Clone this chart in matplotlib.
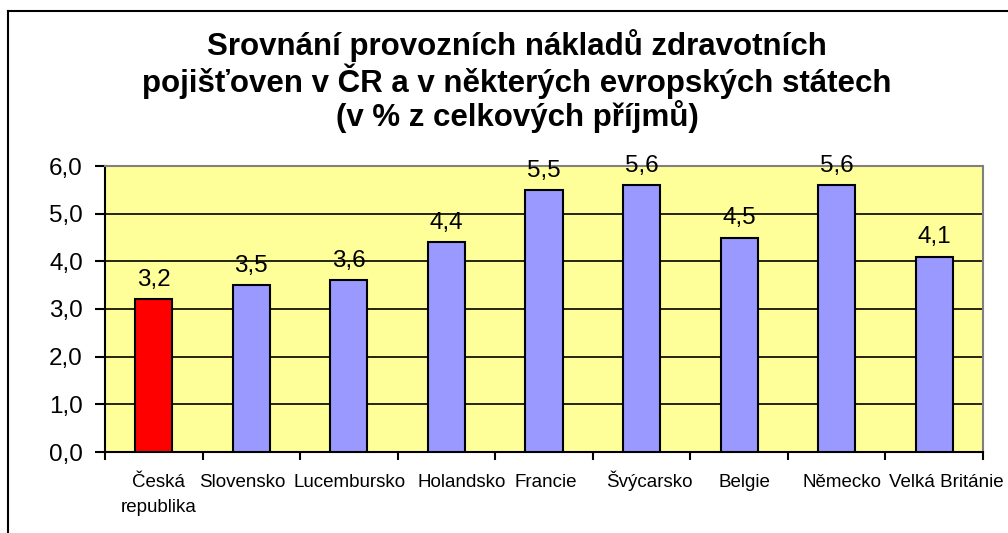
import matplotlib
matplotlib.use("Agg")
import matplotlib.pyplot as plt
from matplotlib.lines import Line2D
from matplotlib.transforms import ScaledTranslation

categories = ["Česká\nrepublika", "Slovensko", "Lucembursko", "Holandsko", "Francie",
              "Švýcarsko", "Belgie", "Německo", "Velká Británie"]
values = [3.2, 3.5, 3.6, 4.4, 5.5, 5.6, 4.5, 5.6, 4.1]
colors = ["#FF0000"] + ["#9999FF"] * 8
yticks = [0.0, 1.0, 2.0, 3.0, 4.0, 5.0, 6.0]
# horizontal nudges (pixels) that mimic the original label layout
label_shift_px = [5, -9, 1, 15, 2, 8, 5, 5, 12]

plt.rcParams['font.family'] = ['Liberation Sans', 'DejaVu Sans']

W, H = 1008, 533
fig = plt.figure(figsize=(W / 100, H / 100), dpi=100)

# outer frame (extends beyond right and bottom edges)
fig.add_artist(Line2D([8 / W, 8 / W], [0, 1 - 11 / H], color="black", lw=1.5))
fig.add_artist(Line2D([8 / W, 1], [1 - 11 / H, 1 - 11 / H], color="black", lw=1.5))

left, right, top, bottom = 105, 983, 166, 452
ax = fig.add_axes([left / W, 1 - bottom / H, (right - left) / W, (bottom - top) / H])
ax.set_facecolor("#FFFF99")

x = list(range(len(categories)))
ax.bar(x, values, width=0.38, color=colors, edgecolor="black", linewidth=1.5, zorder=3)
for xi, v in zip(x, values):
    ax.annotate(f"{v:.1f}".replace(".", ","), (xi, v), xytext=(0, 6),
                textcoords="offset points", ha="center", va="bottom",
                fontsize=17.5, zorder=4)

ax.set_xlim(-0.5, len(categories) - 0.5)
ax.set_ylim(0, 6)
ax.set_yticks(yticks)
ax.set_yticklabels([f"{t:.1f}".replace(".", ",") for t in yticks], fontsize=17.5)
ax.yaxis.grid(True, color="black", lw=1.2, zorder=1)
ax.set_axisbelow(True)

ax.set_xticks([i - 0.5 for i in range(len(categories) + 1)])
ax.set_xticklabels([])
ax.set_xticks(x, minor=True)
labels = ax.set_xticklabels(categories, minor=True, fontsize=13.5, linespacing=1.65)
ax.tick_params(axis="x", which="minor", length=0, pad=25.5)
ax.tick_params(axis="x", which="major", length=6, width=1.5, direction="out")
ax.tick_params(axis="y", length=7, width=1.5, direction="out", pad=9)
line_px = 25
for lab, dx, name in zip(labels, label_shift_px, categories):
    lab.set_verticalalignment("baseline")
    dy = -(name.count("\n")) * line_px
    lab.set_transform(lab.get_transform() +
                      ScaledTranslation(dx / 100, dy / 100, fig.dpi_scale_trans))

for s in ["left", "bottom"]:
    ax.spines[s].set_color("black")
    ax.spines[s].set_linewidth(1.5)
for s in ["top", "right"]:
    ax.spines[s].set_color("#808080")
    ax.spines[s].set_linewidth(1.5)

fig.text(517 / W, 1 - 29 / H,
         "Srovnání provozních nákladů zdravotních\npojišťoven v ČR a v některých evropských státech\n(v % z celkových příjmů)",
         ha="center", va="top", fontsize=22.5, fontweight="bold", linespacing=1.05)

fig.savefig("out.png", dpi=100)
